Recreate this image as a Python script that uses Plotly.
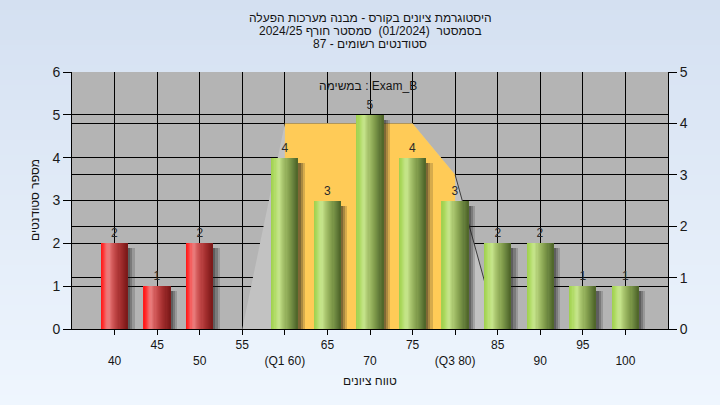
import plotly.graph_objects as go

# ---------------- data ----------------
grades = [40, 45, 50, 55, 60, 65, 70, 75, 80, 85, 90, 95, 100]
counts = [2, 1, 2, 0, 4, 3, 5, 4, 3, 2, 2, 1, 1]
tick_labels = ["40", "45", "50", "55", "(Q1 60)", "65", "70", "75", "(Q3 80)", "85", "90", "95", "100"]
pass_mark = 55

range_x = [55, 60, 75, 80, 85]     # light grey distribution area (right axis)
range_y = [0, 4, 4, 3, 0]
iqr_x = [60, 75, 80]               # yellow Q1-Q3 area (right axis)
iqr_y = [4, 4, 3]

title_lines = [
    "היסטוגרמת ציונים בקורס - מבנה מערכות הפעלה",
    "בסמסטר  (01/2024)  סמסטר חורף 2024/25",
    "סטודנטים רשומים - 87",
]
task_label = "במשימה : Exam_B"
x_title = "טווח ציונים"
y_title = "מספר סטודנטים"

# ---------------- style ----------------
W, H = 720, 405
ML, MR, MT, MB = 72, 52, 72, 76
PW, PH = W - ML - MR, H - MT - MB
FONT = "Liberation Sans, Arial, sans-serif"

def px_to_paper_y(py):
    return (H - MB - py) / PH

def px_to_paper_x(px):
    return (px - ML) / PW

def hex2rgb(h):
    h = h.lstrip("#")
    return tuple(int(h[i:i + 2], 16) for i in (0, 2, 4))

def interp(stops, t):
    for (p0, c0), (p1, c1) in zip(stops[:-1], stops[1:]):
        if p0 <= t <= p1:
            f = (t - p0) / (p1 - p0) if p1 > p0 else 0
            a, b = hex2rgb(c0), hex2rgb(c1)
            return "rgb(%d,%d,%d)" % tuple(round(a[k] + (b[k] - a[k]) * f) for k in range(3))
    return stops[-1][1]

red_stops = [(0, "#ff1414"), (0.1, "#ff3434"), (0.22, "#f07070"), (0.3, "#e87c7c"),
             (0.42, "#d45c5c"), (0.55, "#c04646"), (0.7, "#a83232"), (0.85, "#922424"), (1, "#7a1818")]
green_stops = [(0, "#9fcf4e"), (0.1, "#aad85c"), (0.22, "#bfe27e"), (0.3, "#c6e58c"),
               (0.42, "#adc972"), (0.55, "#97b35e"), (0.7, "#7f9a4a"), (0.85, "#66803c"), (1, "#4e6428")]

bar_w = 3.1
n_stripes = 24
is_fail = [g < pass_mark for g in grades]

fig = go.Figure()

# empty trace so the left (primary) axis subplot exists
fig.add_trace(go.Scatter(x=[], y=[], mode="markers", hoverinfo="skip", showlegend=False))

# areas on right axis (drawn beneath the bars)
fig.add_trace(go.Scatter(x=range_x, y=range_y, fill="toself", fillcolor="#c2c2c2",
                         mode="lines", line=dict(width=0), yaxis="y2", hoverinfo="skip",
                         showlegend=False))
fig.add_trace(go.Scatter(x=iqr_x, y=iqr_y, fill="tozeroy", fillcolor="#ffcb57",
                         mode="lines", line=dict(width=0), yaxis="y2", hoverinfo="skip",
                         showlegend=False))
fig.add_trace(go.Scatter(x=range_x[-2:], y=range_y[-2:], mode="lines",
                         line=dict(width=1, color="#3c3c3c"), yaxis="y2", hoverinfo="skip",
                         showlegend=False))

# bar shadows
for k, (dx, a) in enumerate([(0.8, 0.18), (0.55, 0.24), (0.3, 0.3)]):
    fig.add_trace(go.Bar(x=grades, y=[max(c - 0.12, 0) if c > 0 else 0 for c in counts],
                         width=bar_w, offset=-bar_w / 2 + dx,
                         marker=dict(color="rgba(30,30,30,%.2f)" % a, line=dict(width=0)),
                         yaxis="y3", hoverinfo="skip", showlegend=False))

# base bar (with value labels)
fig.add_trace(go.Bar(x=grades, y=counts, width=bar_w, offset=-bar_w / 2,
                     marker=dict(color=["#7a1818" if f else "#4e6428" for f in is_fail],
                                 line=dict(width=0)),
                     text=[str(c) if c > 0 else "" for c in counts],
                     textposition="outside", constraintext="none", cliponaxis=False,
                     textfont=dict(size=12, color="#2a2a2a", family=FONT),
                     yaxis="y3", hoverinfo="skip", showlegend=False))

# cylinder gradient stripes
sw = bar_w / n_stripes
for i in range(n_stripes):
    t = (i + 0.5) / n_stripes
    cols = [interp(red_stops, t) if f else interp(green_stops, t) for f in is_fail]
    w = sw * 1.6 if i < n_stripes - 1 else sw
    fig.add_trace(go.Bar(x=grades, y=counts, width=w, offset=-bar_w / 2 + i * sw,
                         marker=dict(color=cols, line=dict(width=0)),
                         yaxis="y3", hoverinfo="skip", showlegend=False))

# background gradient (figure) + plot area
shapes = []
n_bg = 81
top_c, bot_c = hex2rgb("#d4e0f1"), hex2rgb("#eff6fe")
for i in range(n_bg):
    py0 = H * i / n_bg
    py1 = H * (i + 1) / n_bg + 1
    f = (i + 0.5) / n_bg
    c = "rgb(%d,%d,%d)" % tuple(round(top_c[k] + (bot_c[k] - top_c[k]) * f) for k in range(3))
    shapes.append(dict(type="rect", xref="paper", yref="paper",
                       x0=px_to_paper_x(0), x1=px_to_paper_x(W),
                       y0=px_to_paper_y(py1), y1=px_to_paper_y(py0),
                       fillcolor=c, line=dict(width=0), layer="below"))
shapes.append(dict(type="rect", xref="paper", yref="paper", x0=0, x1=1, y0=0, y1=1,
                   fillcolor="#b4b4b4", line=dict(width=0), layer="below"))

ticktext = [("<br>" + t) if i % 2 == 0 else t for i, t in enumerate(tick_labels)]

annotations = []
for j, line in enumerate(title_lines):
    annotations.append(dict(text=line, xref="paper", yref="paper", x=0.5,
                            y=px_to_paper_y(18 + 13 * j), xanchor="center", yanchor="middle",
                            showarrow=False, font=dict(size=12, color="#141414", family=FONT)))
annotations.append(dict(text=task_label, xref="paper", yref="paper", x=px_to_paper_x(368),
                        y=px_to_paper_y(86), xanchor="center", yanchor="middle", showarrow=False,
                        font=dict(size=12, color="#141414", family=FONT)))
annotations.append(dict(text=x_title, xref="paper", yref="paper", x=0.5,
                        y=px_to_paper_y(381), xanchor="center", yanchor="middle", showarrow=False,
                        font=dict(size=12, color="#141414", family=FONT)))
annotations.append(dict(text=y_title, xref="paper", yref="paper", x=px_to_paper_x(35),
                        y=px_to_paper_y(200), xanchor="center", yanchor="middle", showarrow=False,
                        textangle=-90, font=dict(size=12, color="#141414", family=FONT)))

axis_common = dict(showgrid=True, gridcolor="black", gridwidth=1, zeroline=False,
                   showline=True, linecolor="black", linewidth=1,
                   ticks="outside", tickcolor="black")

fig.update_layout(
    width=W, height=H,
    margin=dict(l=ML, r=MR, t=MT, b=MB, pad=0),
    paper_bgcolor="#e2ebf8",
    plot_bgcolor="rgba(0,0,0,0)",
    barmode="overlay",
    bargap=0,
    showlegend=False,
    hovermode=False,
    font=dict(family=FONT, color="#141414"),
    xaxis=dict(range=[35, 105], tickmode="array", tickvals=grades, ticktext=ticktext,
               ticklen=5, tickfont=dict(size=12, color="#141414"), **axis_common),
    yaxis=dict(range=[0, 6], dtick=1, ticklen=8, tickfont=dict(size=14, color="#1a1a1a"),
               **axis_common),
    yaxis2=dict(range=[0, 5], dtick=1, ticklen=8, overlaying="y", side="right",
                tickfont=dict(size=14, color="#1a1a1a"), **axis_common),
    yaxis3=dict(range=[0, 6], overlaying="y", visible=False, showgrid=False),
    shapes=shapes,
    annotations=annotations,
)

fig.write_html("out.html", config={"displayModeBar": False},
               post_script="document.body.style.margin='0';document.body.style.overflow='hidden';")
